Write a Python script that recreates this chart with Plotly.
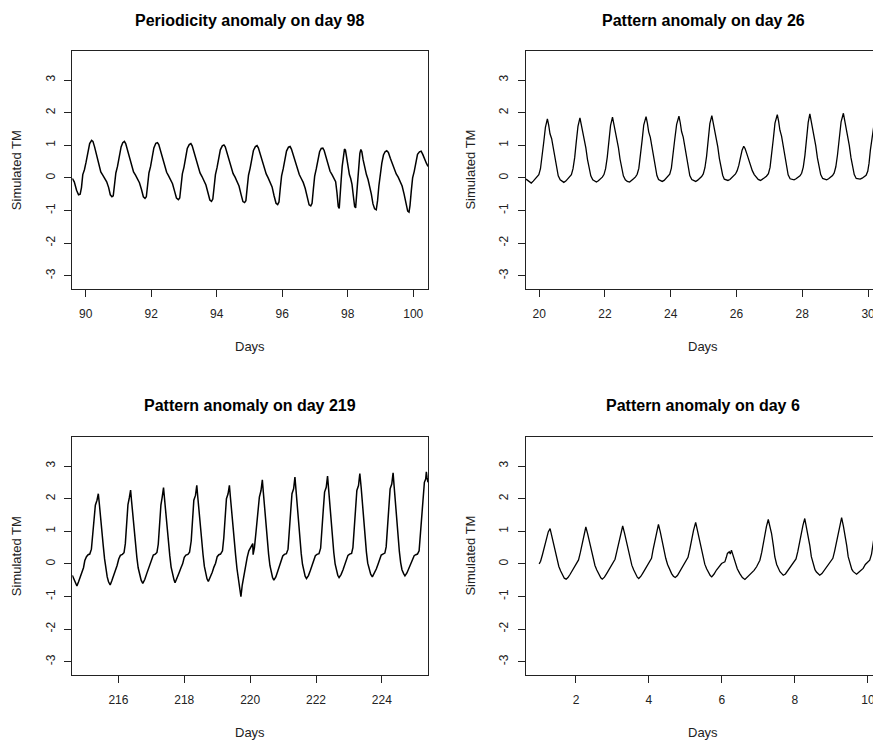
import plotly.graph_objects as go

# ---------------- data ----------------
titles = ["Periodicity anomaly on day 98", "Pattern anomaly on day 26",
          "Pattern anomaly on day 219", "Pattern anomaly on day 6"]
x_label = "Days"
y_label = "Simulated TM"
y_ticks = [-3, -2, -1, 0, 1, 2, 3]

p1_x = [89.59, 89.65, 89.72, 89.78, 89.83, 89.87, 89.91, 89.96, 90.01, 90.07, 90.12, 90.18, 90.22, 90.27, 90.33, 90.40, 90.46, 90.52, 90.58, 90.64, 90.70, 90.75, 90.80,
        90.84, 90.88, 90.92, 90.97, 91.02, 91.08, 91.13, 91.18, 91.22, 91.28, 91.34, 91.40, 91.46, 91.52, 91.58, 91.64, 91.70, 91.76, 91.81,
        91.85, 91.89, 91.93, 91.98, 92.03, 92.08, 92.14, 92.19, 92.23, 92.29, 92.35, 92.41, 92.47, 92.53, 92.59, 92.65, 92.71, 92.77, 92.83,
        92.87, 92.91, 92.95, 93.00, 93.05, 93.10, 93.16, 93.21, 93.25, 93.31, 93.37, 93.43, 93.49, 93.55, 93.61, 93.67, 93.73, 93.79, 93.84,
        93.88, 93.92, 93.96, 94.01, 94.06, 94.11, 94.17, 94.22, 94.26, 94.32, 94.38, 94.44, 94.50, 94.56, 94.62, 94.68, 94.74, 94.80, 94.85,
        94.89, 94.93, 94.97, 95.02, 95.07, 95.12, 95.18, 95.23, 95.27, 95.33, 95.39, 95.45, 95.51, 95.57, 95.63, 95.69, 95.75, 95.81, 95.86,
        95.90, 95.94, 95.98, 96.03, 96.08, 96.13, 96.19, 96.24, 96.28, 96.34, 96.40, 96.46, 96.52, 96.58, 96.64, 96.70, 96.76, 96.82, 96.87,
        96.91, 96.95, 96.99, 97.04, 97.09, 97.14, 97.19, 97.24, 97.28, 97.34, 97.40, 97.46, 97.52, 97.58, 97.63, 97.67, 97.71, 97.74,
        97.77, 97.80, 97.83, 97.86, 97.90, 97.93, 97.97, 98.01, 98.05, 98.09, 98.13, 98.17, 98.21, 98.24,
        98.27, 98.30, 98.33, 98.37, 98.40, 98.43, 98.47, 98.52, 98.57, 98.62, 98.67, 98.72, 98.77, 98.82, 98.87,
        98.91, 98.95, 98.99, 99.04, 99.09, 99.14, 99.19, 99.24, 99.30, 99.36, 99.42, 99.48, 99.54, 99.60, 99.66, 99.72, 99.78, 99.83, 99.87,
        99.90, 99.94, 99.98, 100.03, 100.08, 100.13, 100.19, 100.24, 100.29, 100.35, 100.40, 100.45]
p1_y = [-0.02, -0.12, -0.38, -0.52, -0.50, -0.30, 0.10, 0.25, 0.48, 0.80, 1.05, 1.15, 1.12, 0.95, 0.70, 0.40, 0.18, 0.08, -0.02, -0.12, -0.30, -0.52, -0.58,
        -0.55, -0.20, 0.15, 0.35, 0.62, 0.95, 1.08, 1.12, 1.05, 0.85, 0.62, 0.38, 0.18, 0.08, -0.02, -0.15, -0.35, -0.58, -0.63,
        -0.58, -0.22, 0.15, 0.35, 0.60, 0.92, 1.06, 1.08, 1.02, 0.82, 0.58, 0.35, 0.17, 0.06, -0.05, -0.18, -0.40, -0.62, -0.67,
        -0.62, -0.25, 0.12, 0.33, 0.58, 0.90, 1.02, 1.05, 0.98, 0.78, 0.55, 0.32, 0.15, 0.04, -0.08, -0.22, -0.45, -0.68, -0.72,
        -0.65, -0.28, 0.10, 0.32, 0.55, 0.86, 0.98, 1.01, 0.95, 0.75, 0.52, 0.30, 0.13, 0.02, -0.10, -0.25, -0.50, -0.73, -0.76,
        -0.70, -0.30, 0.08, 0.30, 0.55, 0.84, 0.96, 0.99, 0.92, 0.72, 0.50, 0.28, 0.12, 0.00, -0.12, -0.28, -0.55, -0.78, -0.82,
        -0.74, -0.32, 0.06, 0.28, 0.52, 0.82, 0.94, 0.96, 0.88, 0.68, 0.47, 0.26, 0.10, -0.02, -0.14, -0.32, -0.60, -0.83, -0.86,
        -0.78, -0.35, 0.05, 0.28, 0.52, 0.80, 0.90, 0.91, 0.84, 0.62, 0.40, 0.20, 0.10, 0.00, -0.12, -0.45, -0.88, -0.94,
        -0.60, -0.05, 0.35, 0.65, 0.88, 0.85, 0.55, 0.30, 0.10, -0.02, -0.20, -0.55, -0.88, -0.92,
        -0.55, -0.05, 0.40, 0.75, 0.87, 0.80, 0.55, 0.30, 0.10, -0.05, -0.25, -0.50, -0.80, -0.95, -0.98,
        -0.70, -0.25, 0.15, 0.45, 0.70, 0.80, 0.83, 0.78, 0.60, 0.42, 0.25, 0.12, 0.02, -0.10, -0.25, -0.50, -0.85, -1.02, -1.05,
        -0.85, -0.40, 0.00, 0.20, 0.50, 0.72, 0.80, 0.82, 0.72, 0.55, 0.45, 0.35]

p2_x = [19.60, 19.66, 19.72, 19.76, 19.82, 19.88, 19.94, 19.99, 20.04, 20.09, 20.14, 20.19, 20.25, 20.29, 20.33, 20.38, 20.43, 20.48, 20.53, 20.58, 20.64, 20.70,
        20.75, 20.81, 20.87, 20.93, 20.98, 21.03, 21.08, 21.13, 21.18, 21.24, 21.28, 21.32, 21.37, 21.42, 21.47, 21.52, 21.57, 21.63, 21.69,
        21.74, 21.80, 21.86, 21.92, 21.97, 22.02, 22.07, 22.12, 22.17, 22.23, 22.27, 22.31, 22.36, 22.41, 22.46, 22.51, 22.56, 22.62, 22.68,
        22.75, 22.81, 22.87, 22.93, 22.98, 23.03, 23.08, 23.13, 23.18, 23.25, 23.29, 23.33, 23.38, 23.43, 23.48, 23.53, 23.58, 23.63, 23.69,
        23.74, 23.80, 23.86, 23.92, 23.97, 24.02, 24.07, 24.12, 24.18, 24.25, 24.29, 24.33, 24.38, 24.43, 24.48, 24.53, 24.58, 24.64, 24.70,
        24.76, 24.82, 24.88, 24.94, 24.99, 25.04, 25.09, 25.14, 25.19, 25.25, 25.29, 25.33, 25.38, 25.43, 25.48, 25.53, 25.58, 25.63, 25.69,
        25.74, 25.80, 25.86, 25.92, 25.97, 26.02, 26.07, 26.12, 26.17, 26.22, 26.26, 26.31, 26.36, 26.42, 26.48, 26.54, 26.60, 26.66,
        26.73, 26.79, 26.85, 26.91, 26.97, 27.02, 27.07, 27.12, 27.17, 27.24, 27.28, 27.32, 27.37, 27.42, 27.47, 27.52, 27.57, 27.63, 27.69,
        27.75, 27.81, 27.87, 27.93, 27.98, 28.03, 28.08, 28.13, 28.18, 28.23, 28.27, 28.31, 28.36, 28.41, 28.46, 28.51, 28.56, 28.62, 28.68,
        28.74, 28.80, 28.86, 28.92, 28.97, 29.02, 29.07, 29.12, 29.18, 29.25, 29.29, 29.33, 29.38, 29.43, 29.48, 29.53, 29.58, 29.64, 29.70,
        29.76, 29.82, 29.88, 29.94, 29.99, 30.03, 30.07, 30.11, 30.15, 30.19, 30.24, 30.29, 30.33, 30.38]
p2_y = [-0.04, -0.08, -0.14, -0.16, -0.10, -0.04, 0.02, 0.10, 0.28, 0.62, 1.10, 1.55, 1.81, 1.62, 1.35, 1.20, 0.90, 0.55, 0.25, 0.06, -0.06, -0.12,
        -0.14, -0.10, -0.04, 0.02, 0.10, 0.28, 0.62, 1.12, 1.58, 1.84, 1.64, 1.38, 1.22, 0.92, 0.56, 0.26, 0.06, -0.06, -0.11,
        -0.13, -0.09, -0.04, 0.02, 0.10, 0.28, 0.63, 1.14, 1.60, 1.86, 1.66, 1.40, 1.23, 0.93, 0.57, 0.26, 0.06, -0.06, -0.11,
        -0.13, -0.09, -0.03, 0.03, 0.11, 0.29, 0.64, 1.15, 1.62, 1.88, 1.68, 1.41, 1.24, 0.94, 0.58, 0.27, 0.07, -0.05, -0.09,
        -0.11, -0.08, -0.02, 0.03, 0.11, 0.30, 0.65, 1.16, 1.64, 1.89, 1.69, 1.42, 1.25, 0.95, 0.58, 0.27, 0.07, -0.05, -0.09,
        -0.11, -0.07, -0.02, 0.04, 0.12, 0.31, 0.66, 1.18, 1.66, 1.91, 1.71, 1.44, 1.26, 0.96, 0.59, 0.28, 0.08, -0.04, -0.07,
        -0.08, -0.05, 0.00, 0.05, 0.12, 0.22, 0.38, 0.62, 0.85, 0.97, 0.90, 0.75, 0.58, 0.38, 0.22, 0.10, 0.01, -0.05,
        -0.08, -0.05, 0.00, 0.05, 0.13, 0.32, 0.68, 1.20, 1.68, 1.94, 1.74, 1.46, 1.28, 0.97, 0.60, 0.29, 0.09, -0.03, -0.05,
        -0.06, -0.03, 0.01, 0.06, 0.14, 0.33, 0.69, 1.22, 1.70, 1.96, 1.76, 1.47, 1.29, 0.98, 0.61, 0.30, 0.10, -0.02, -0.05,
        -0.06, -0.03, 0.02, 0.07, 0.15, 0.34, 0.70, 1.24, 1.72, 1.98, 1.78, 1.49, 1.30, 0.99, 0.62, 0.31, 0.10, -0.02, -0.03,
        -0.04, -0.01, 0.03, 0.08, 0.20, 0.45, 0.85, 1.20, 1.50, 1.70, 2.00, 1.80, 1.50, 1.31]

p3_x = [214.60, 214.65, 214.70, 214.74, 214.79, 214.84, 214.89, 214.94, 214.98, 215.03, 215.08, 215.13, 215.18, 215.22, 215.26, 215.30, 215.35, 215.39,
        215.42, 215.46, 215.50, 215.54, 215.58, 215.62, 215.66, 215.70, 215.75,
        215.80, 215.86, 215.91, 215.96, 216.01, 216.06, 216.12, 216.17, 216.21, 216.25, 216.29, 216.33, 216.37,
        216.40, 216.44, 216.48, 216.52, 216.56, 216.60, 216.65, 216.69, 216.74,
        216.80, 216.86, 216.91, 216.96, 217.01, 217.06, 217.12, 217.17, 217.21, 217.25, 217.29, 217.33, 217.37,
        217.40, 217.44, 217.48, 217.52, 217.56, 217.60, 217.65, 217.69, 217.72,
        217.78, 217.84, 217.90, 217.95, 218.00, 218.05, 218.11, 218.16, 218.21, 218.25, 218.29, 218.34, 218.38,
        218.41, 218.45, 218.49, 218.53, 218.57, 218.61, 218.65, 218.69, 218.73,
        218.79, 218.85, 218.90, 218.95, 219.00, 219.05, 219.10, 219.16, 219.20, 219.24, 219.28, 219.33, 219.37,
        219.40, 219.44, 219.48, 219.52, 219.56, 219.60, 219.64, 219.68, 219.72,
        219.76, 219.81, 219.86, 219.91, 219.96, 220.01, 220.05, 220.08, 220.09, 220.13, 220.18, 220.23, 220.28, 220.33, 220.37,
        220.40, 220.44, 220.48, 220.52, 220.56, 220.60, 220.64, 220.68, 220.72,
        220.78, 220.84, 220.89, 220.94, 220.99, 221.04, 221.10, 221.15, 221.19, 221.23, 221.27, 221.32, 221.36,
        221.39, 221.43, 221.47, 221.51, 221.55, 221.59, 221.63, 221.67, 221.71,
        221.77, 221.83, 221.88, 221.93, 221.98, 222.03, 222.09, 222.14, 222.18, 222.22, 222.26, 222.31, 222.35,
        222.38, 222.42, 222.46, 222.50, 222.54, 222.58, 222.62, 222.66, 222.70,
        222.76, 222.82, 222.87, 222.92, 222.97, 223.02, 223.08, 223.12, 223.16, 223.20, 223.24, 223.29, 223.33,
        223.37, 223.41, 223.45, 223.49, 223.53, 223.57, 223.62, 223.66, 223.71,
        223.77, 223.83, 223.88, 223.93, 223.98, 224.03, 224.09, 224.13, 224.17, 224.21, 224.25, 224.30, 224.34,
        224.37, 224.41, 224.45, 224.49, 224.53, 224.57, 224.61, 224.66, 224.70,
        224.76, 224.82, 224.88, 224.93, 224.98, 225.03, 225.08, 225.13, 225.17, 225.21, 225.25, 225.29, 225.33, 225.35, 225.37, 225.40]
p3_y = [-0.35, -0.45, -0.60, -0.68, -0.55, -0.42, -0.28, -0.12, 0.10, 0.22, 0.28, 0.30, 0.45, 0.95, 1.55, 1.80, 1.95, 2.15,
        1.85, 1.35, 0.95, 0.55, 0.15, -0.15, -0.40, -0.55, -0.65,
        -0.52, -0.36, -0.20, -0.05, 0.15, 0.26, 0.29, 0.34, 0.62, 1.25, 1.82, 2.02, 2.26,
        1.92, 1.42, 1.02, 0.62, 0.20, -0.12, -0.38, -0.50, -0.60,
        -0.48, -0.30, -0.15, -0.02, 0.18, 0.27, 0.30, 0.35, 0.60, 1.20, 1.80, 2.05, 2.34,
        2.00, 1.50, 1.10, 0.70, 0.25, -0.10, -0.38, -0.50, -0.58,
        -0.45, -0.28, -0.12, 0.00, 0.20, 0.27, 0.29, 0.36, 0.70, 1.35, 1.95, 2.10, 2.41,
        2.05, 1.55, 1.15, 0.72, 0.28, -0.08, -0.32, -0.46, -0.54,
        -0.42, -0.26, -0.10, 0.02, 0.22, 0.28, 0.30, 0.40, 0.80, 1.45, 2.00, 2.15, 2.41,
        2.05, 1.55, 1.15, 0.70, 0.25, -0.15, -0.40, -0.75, -1.01,
        -0.65, -0.35, -0.10, 0.20, 0.40, 0.48, 0.55, 0.62, 0.28, 0.50, 1.00, 1.60, 2.05, 2.25, 2.58,
        2.20, 1.65, 1.20, 0.75, 0.30, -0.05, -0.28, -0.42, -0.50,
        -0.40, -0.22, -0.08, 0.05, 0.24, 0.29, 0.31, 0.45, 0.90, 1.60, 2.15, 2.30, 2.66,
        2.25, 1.70, 1.25, 0.80, 0.32, -0.02, -0.25, -0.38, -0.45,
        -0.36, -0.20, -0.06, 0.06, 0.25, 0.29, 0.31, 0.48, 0.95, 1.65, 2.20, 2.35, 2.69,
        2.30, 1.75, 1.28, 0.82, 0.34, 0.00, -0.22, -0.35, -0.42,
        -0.33, -0.18, -0.04, 0.08, 0.26, 0.30, 0.32, 0.50, 1.00, 1.70, 2.25, 2.40, 2.77,
        2.35, 1.80, 1.30, 0.85, 0.36, 0.02, -0.20, -0.32, -0.40,
        -0.30, -0.16, -0.02, 0.10, 0.27, 0.30, 0.33, 0.52, 1.05, 1.75, 2.30, 2.45, 2.79,
        2.40, 1.85, 1.32, 0.88, 0.38, 0.04, -0.18, -0.30, -0.37,
        -0.28, -0.12, 0.02, 0.15, 0.25, 0.28, 0.30, 0.40, 0.90, 1.60, 2.10, 2.50, 2.60, 2.82, 2.65, 2.50]

p4_x = [0.99, 1.03, 1.08, 1.13, 1.18, 1.24, 1.29, 1.33, 1.38, 1.43, 1.48, 1.53, 1.58, 1.63, 1.68, 1.73,
        1.78, 1.84, 1.90, 1.96, 2.02, 2.07, 2.12, 2.17, 2.22, 2.27, 2.32, 2.37, 2.42, 2.47, 2.52, 2.57, 2.63, 2.68, 2.72,
        2.78, 2.84, 2.90, 2.96, 3.02, 3.07, 3.12, 3.17, 3.22, 3.28, 3.33, 3.38, 3.43, 3.48, 3.53, 3.58, 3.63, 3.68, 3.72,
        3.78, 3.84, 3.90, 3.96, 4.02, 4.07, 4.11, 4.16, 4.21, 4.26, 4.31, 4.36, 4.41, 4.46, 4.51, 4.56, 4.62, 4.67, 4.72,
        4.78, 4.84, 4.90, 4.96, 5.02, 5.07, 5.12, 5.17, 5.22, 5.28, 5.33, 5.38, 5.43, 5.48, 5.53, 5.58, 5.63, 5.68, 5.72,
        5.78, 5.85, 5.92, 5.99, 6.04, 6.08, 6.12, 6.15, 6.20, 6.23, 6.26, 6.31, 6.36, 6.42, 6.49, 6.56, 6.63,
        6.69, 6.75, 6.81, 6.88, 6.95, 7.00, 7.04, 7.09, 7.13, 7.18, 7.22, 7.27, 7.32, 7.36, 7.41, 7.45, 7.50, 7.55, 7.59, 7.64, 7.68,
        7.74, 7.80, 7.86, 7.92, 7.98, 8.03, 8.08, 8.13, 8.18, 8.22, 8.27, 8.32, 8.36, 8.41, 8.45, 8.50, 8.55, 8.59, 8.64, 8.68,
        8.74, 8.80, 8.86, 8.92, 8.98, 9.04, 9.09, 9.14, 9.19, 9.23, 9.28, 9.33, 9.37, 9.42, 9.46, 9.51, 9.56, 9.60, 9.65, 9.69,
        9.75, 9.81, 9.87, 9.93, 9.99, 10.05, 10.10, 10.15, 10.20, 10.25, 10.29, 10.34]
p4_y = [0.00, 0.08, 0.28, 0.52, 0.74, 0.98, 1.08, 0.88, 0.62, 0.32, 0.10, -0.08, -0.22, -0.36, -0.44, -0.47,
        -0.42, -0.32, -0.20, -0.09, 0.04, 0.12, 0.35, 0.62, 0.90, 1.13, 0.92, 0.66, 0.38, 0.14, -0.05, -0.19, -0.34, -0.43, -0.47,
        -0.41, -0.30, -0.18, -0.07, 0.05, 0.14, 0.38, 0.65, 0.92, 1.16, 0.94, 0.68, 0.40, 0.15, -0.04, -0.18, -0.32, -0.41, -0.45,
        -0.38, -0.27, -0.15, -0.04, 0.07, 0.17, 0.42, 0.70, 0.97, 1.21, 0.98, 0.70, 0.42, 0.17, -0.02, -0.16, -0.30, -0.38, -0.42,
        -0.36, -0.25, -0.13, -0.02, 0.08, 0.20, 0.45, 0.75, 1.02, 1.27, 1.02, 0.72, 0.43, 0.18, -0.01, -0.15, -0.28, -0.36, -0.40,
        -0.32, -0.19, -0.08, 0.01, 0.04, 0.06, 0.20, 0.32, 0.37, 0.30, 0.42, 0.25, 0.01, -0.15, -0.30, -0.42, -0.48,
        -0.42, -0.36, -0.30, -0.20, -0.09, 0.02, 0.11, 0.35, 0.62, 0.95, 1.15, 1.36, 1.10, 0.93, 0.55, 0.21, -0.02, -0.18, -0.24, -0.30, -0.35,
        -0.31, -0.22, -0.12, -0.02, 0.08, 0.15, 0.38, 0.68, 0.98, 1.18, 1.39, 1.12, 0.90, 0.55, 0.22, -0.02, -0.18, -0.25, -0.31, -0.35,
        -0.30, -0.21, -0.11, -0.01, 0.09, 0.17, 0.40, 0.70, 1.00, 1.20, 1.42, 1.15, 0.92, 0.56, 0.22, -0.02, -0.17, -0.24, -0.29, -0.32,
        -0.26, -0.20, -0.14, -0.02, 0.05, 0.11, 0.30, 0.72, 1.05, 1.35, 1.10, 0.80]

x_ticks = [[90, 92, 94, 96, 98, 100], [20, 22, 24, 26, 28, 30],
           [216, 218, 220, 222, 224], [2, 4, 6, 8, 10]]

series_x = [p1_x, p2_x, p3_x, p4_x]
series_y = [p1_y, p2_y, p3_y, p4_y]

# ---------------- layout geometry ----------------
W, H = 873, 743
FONT = "Liberation Sans, Arial, Helvetica, sans-serif"
INK = "#222222"

# pixel boxes: left, right, top, bottom
boxes = [(72.3, 428.0, 50.7, 289.0), (526.0, 873.0, 50.7, 289.0),
         (72.3, 428.0, 436.7, 675.0), (526.0, 873.0, 436.7, 675.0)]
x_ranges = [[89.59, 100.45], [19.60, 30.15], [214.60, 225.40], [0.63, 10.14]]
y_range = [-3.41, 3.90]
title_centers = [(249.5, 20.0), (703.3, 20.0), (249.5, 405.7), (703.3, 405.7)]
xlabel_y = [346.7, 346.7, 732.3, 732.3]
ylabel_x = [17.3, 470.7, 17.3, 470.7]
line_widths = [1.5, 1.3, 1.5, 1.3]

fig = go.Figure()
annotations = []
for i in range(4):
    xa = "x" if i == 0 else f"x{i+1}"
    ya = "y" if i == 0 else f"y{i+1}"
    fig.add_trace(go.Scatter(x=series_x[i], y=series_y[i], mode="lines",
                             line=dict(color="black", width=line_widths[i]),
                             xaxis=xa, yaxis=ya, showlegend=False,
                             hoverinfo="x+y"))
    l, r, t, b = boxes[i]
    right_panel = i in (1, 3)
    xkey = "xaxis" if i == 0 else f"xaxis{i+1}"
    ykey = "yaxis" if i == 0 else f"yaxis{i+1}"
    fig.update_layout(**{
        xkey: dict(domain=[l / W, r / W], range=x_ranges[i], anchor=ya,
                   tickvals=x_ticks[i], ticktext=[str(v) for v in x_ticks[i]],
                   showgrid=False, zeroline=False, showline=True, mirror=True,
                   linecolor=INK, linewidth=1, ticks="outside", ticklen=7,
                   tickcolor=INK, tickwidth=1, ticklabelstandoff=7,
                   ticklabeloverflow="allow",
                   tickfont=dict(family=FONT, size=12, color=INK),
                   automargin=False, fixedrange=True),
        ykey: dict(domain=[1 - b / H, 1 - t / H], range=y_range, anchor=xa,
                   tickvals=y_ticks, ticktext=[str(v) for v in y_ticks],
                   tickangle=-90,
                   showgrid=False, zeroline=False, showline=True,
                   mirror=(not right_panel),
                   linecolor=INK, linewidth=1, ticks="outside", ticklen=7,
                   tickcolor=INK, tickwidth=1, ticklabelstandoff=5,
                   tickfont=dict(family=FONT, size=12, color=INK),
                   automargin=False, fixedrange=True),
    })
    cx, cy = title_centers[i]
    annotations.append(dict(text=f"<b>{titles[i]}</b>", x=cx / W, y=1 - cy / H,
                            xref="paper", yref="paper", xanchor="center", yanchor="middle",
                            showarrow=False, font=dict(family=FONT, size=16, color="black")))
    annotations.append(dict(text=x_label, x=((l + (r if not right_panel else 880.0)) / 2) / W,
                            y=1 - xlabel_y[i] / H,
                            xref="paper", yref="paper", xanchor="center", yanchor="middle",
                            showarrow=False, font=dict(family=FONT, size=13, color=INK)))
    annotations.append(dict(text=y_label, x=ylabel_x[i] / W, y=1 - ((t + b) / 2) / H,
                            xref="paper", yref="paper", xanchor="center", yanchor="middle",
                            textangle=-90, showarrow=False,
                            font=dict(family=FONT, size=13, color=INK)))

fig.update_layout(width=W, height=H, margin=dict(l=0, r=0, t=0, b=0),
                  paper_bgcolor="white", plot_bgcolor="white",
                  annotations=annotations, showlegend=False)

fig.write_html("out.html",
               config={"displayModeBar": False},
               post_script="document.body.style.margin='0';document.body.style.padding='0';"
                           "document.body.style.overflow='hidden';"
                           "document.documentElement.style.overflow='hidden';")
